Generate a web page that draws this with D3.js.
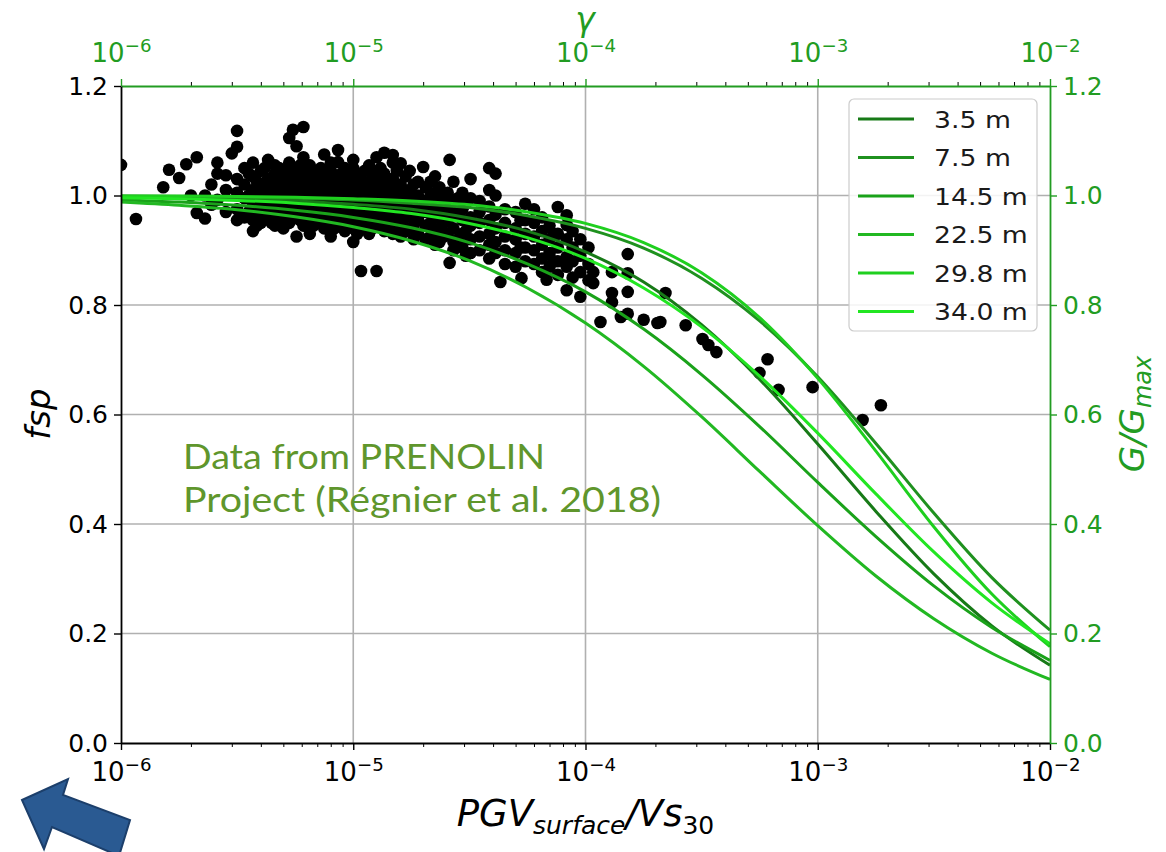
<!DOCTYPE html>
<html><head><meta charset="utf-8">
<script src="https://cdn.jsdelivr.net/npm/d3@7/dist/d3.min.js"></script>
<style>html,body{margin:0;padding:0;background:#fff} svg{display:block}</style>
</head><body>
<svg id="c" width="1166" height="852"></svg>
<script>
// ---------- data ----------
const depthLabels = ["3.5 m","7.5 m","14.5 m","22.5 m","29.8 m","34.0 m"];
const depthColors = ["#177a17","#1f911f","#1aa21a","#22b822","#1fcf1f","#22e622"];
// shear strain grid (top axis, gamma)
const strainGrid = [1e-6,1.78e-6,3.16e-6,5.62e-6,1e-5,1.78e-5,3.16e-5,5.62e-5,1e-4,1.78e-4,3.16e-4,5.62e-4,1e-3,1.78e-3,3.16e-3,5.62e-3,1e-2];
// G/Gmax at the strainGrid points
const gg_3_5  = [0.998,0.996,0.994,0.990,0.984,0.975,0.959,0.935,0.897,0.842,0.764,0.664,0.546,0.423,0.309,0.214,0.142];
const gg_7_5  = [0.999,0.998,0.997,0.995,0.992,0.986,0.978,0.963,0.940,0.904,0.849,0.771,0.669,0.547,0.420,0.302,0.206];
const gg_14_5 = [0.992,0.988,0.982,0.973,0.960,0.941,0.914,0.875,0.824,0.756,0.673,0.578,0.476,0.377,0.287,0.211,0.151];
const gg_22_5 = [0.988,0.982,0.974,0.961,0.943,0.917,0.881,0.831,0.767,0.688,0.596,0.496,0.397,0.305,0.227,0.164,0.116];
const gg_29_8 = [0.999,0.999,0.998,0.997,0.994,0.990,0.983,0.970,0.949,0.914,0.859,0.777,0.666,0.533,0.395,0.272,0.176];
const gg_34_0 = [0.996,0.994,0.991,0.986,0.978,0.967,0.949,0.923,0.885,0.831,0.760,0.670,0.566,0.455,0.349,0.256,0.181];
const curveSeries = [gg_3_5, gg_7_5, gg_14_5, gg_22_5, gg_29_8, gg_34_0];

// PRENOLIN observations: PGV_surface/Vs30 and the fsp values observed at it
const obsPGV = [1.0e-6,1.16e-6,1.52e-6,1.61e-6,1.78e-6,1.91e-6,2.0e-6,2.12e-6,2.3e-6,2.45e-6,2.6e-6,2.83e-6,3.0e-6,3.16e-6,3.4e-6,3.7e-6,4.0e-6,4.3e-6,4.6e-6,5.0e-6,5.3e-6,5.5e-6,5.7e-6,6.1e-6,6.5e-6,7.0e-6,7.5e-6,8.0e-6,8.6e-6,9.2e-6,1.0e-5,1.08e-5,1.17e-5,1.26e-5,1.36e-5,1.48e-5,1.6e-5,1.75e-5,1.9e-5,2.0e-5,2.05e-5,2.25e-5,2.45e-5,2.6e-5,2.7e-5,2.95e-5,3.2e-5,3.5e-5,3.85e-5,4.1e-5,4.3e-5,4.5e-5,5.0e-5,5.3e-5,5.5e-5,6.0e-5,6.5e-5,6.8e-5,7.0e-5,7.6e-5,8.3e-5,8.8e-5,9.5e-5,1.03e-4,1.08e-4,1.16e-4,1.3e-4,1.42e-4,1.52e-4,1.78e-4,2.04e-4,2.1e-4,2.21e-4,2.7e-4,3.19e-4,3.38e-4,3.66e-4,5.61e-4,6.08e-4,6.78e-4,9.5e-4,1.56e-3,1.87e-3,
 3.55e-6,3.85e-6,4.15e-6,4.45e-6,4.8e-6,5.15e-6,5.9e-6,6.3e-6,6.75e-6,7.25e-6,7.75e-6,8.3e-6,8.9e-6,9.6e-6,1.04e-5,1.12e-5,1.21e-5,1.31e-5,1.42e-5,1.54e-5,1.68e-5,1.82e-5,2.15e-5,2.35e-5,2.55e-5,2.82e-5,3.05e-5,5.25e-5,7.3e-5];
const obsFsp = [
 [1.056],[0.957],[1.015],[1.047],[1.032],[1.057],[1.0],[1.07,0.968],[1.0,0.958],[1.02,0.983],[1.06,0.992,1.04],[1.037,0.97,1.01],[1.077],
 [1.118,1.089,1.03,1.005,0.975,0.955],[1.05,1.02,0.995,0.96],[1.06,1.035,1.01,0.985,0.955,0.935],[1.045,1.02,1.0,0.975,0.95],
 [1.065,1.03,1.005,0.985,0.96],[1.055,1.04,1.015,0.995,0.97,0.945],[1.03,1.01,0.99,0.965,0.94],[1.105,1.06,1.035,1.015,0.995,0.975,0.95],[1.12],
 [1.09,1.045,1.02,1.0,0.98,0.96,0.925],[1.125,1.07,1.04,1.01,0.99,0.97,0.945],[1.055,1.025,1.005,0.985,0.96,0.93],[1.04,1.02,0.995,0.975,0.95],
 [1.075,1.03,1.01,0.985,0.965,0.94],[1.06,1.045,1.015,0.99,0.97,0.955,0.925],[1.083,1.061,1.035,1.02,1.0,0.975,0.95],[1.05,1.025,1.005,0.98,0.96,0.935],
 [1.065,1.05,1.03,1.005,0.985,0.96,0.94,0.915],[1.04,1.01,0.99,0.97,0.945,0.862],[1.055,1.025,1.0,0.975,0.955,0.93],[1.07,1.035,1.015,0.99,0.965,0.945,0.862],
 [1.078,1.04,1.005,0.98,0.96,0.935],[1.074,1.06,1.03,1.0,0.98,0.955,0.93],[1.059,1.02,0.995,0.975,0.95,0.925],[1.045,1.01,0.985,0.965,0.94],
 [1.025,1.0,0.975,0.955,0.93],[1.052],[1.015,0.99,0.97,0.945,0.92],[1.035,1.005,0.98,0.96,0.935,0.91],[0.995,0.97,0.95,0.925],[1.065,0.877],
 [1.025,0.99,0.965,0.94,0.915,0.90],[1.005,0.975,0.955,0.93,0.905],[1.03,0.995,0.96,0.945,0.92,0.895],[0.99,0.97,0.95,0.925,0.9],
 [1.05,1.01,0.98,0.955,0.93,0.91,0.885],[1.04,1.0,0.965,0.94,0.915,0.895],[0.842],[0.975,0.95,0.925,0.9,0.875],[0.97,0.94,0.92,0.895,0.87],[0.849],
 [0.985,0.955,0.93,0.905,0.88],[0.975,0.95,0.925,0.9,0.875],[0.96,0.935,0.91,0.885,0.86],[0.846],[0.945,0.92,0.895,0.87],[0.979,0.93,0.905,0.88,0.855],
 [0.964,0.946,0.92,0.888,0.87,0.827],[0.935,0.905,0.88,0.85],[0.92,0.89,0.86,0.815],[0.905,0.875,0.845],[0.86,0.84],[0.769],[0.86,0.822,0.805],[0.778],
 [0.893,0.858,0.824,0.784],[0.773],[0.767],[0.769],[0.822],[0.763],[0.738],[0.727],[0.714],[0.676],[0.701],[0.645],[0.65],[0.59],[0.617],
 [1.04,1.0,0.97],[1.025,0.995,0.965,0.945],[1.05,1.01,0.99,0.965],[1.02,0.975,0.95],[1.05,1.025,1.0,0.98,0.955],[1.045,1.02,0.985,0.96],
 [1.055,1.03,1.005,0.985,0.955],[1.045,1.02,0.995,0.975,0.955],[1.035,1.01,0.99,0.965,0.945],[1.05,1.025,1.0,0.98,0.96],[1.04,1.02,0.995,0.975,0.95],
 [1.03,1.005,0.985,0.96,0.94],[1.04,1.015,0.99,0.97,0.945],[1.035,1.015,0.995,0.97,0.95],[1.025,1.0,0.975,0.95,0.93],[1.045,1.02,0.995,0.965,0.94],
 [1.04,1.01,0.985,0.965,0.94],[1.05,1.025,1.0,0.97,0.95],[1.03,1.015,0.99,0.97,0.945],[1.045,1.015,0.99,0.965,0.94],[1.035,1.005,0.98,0.96,0.935],
 [1.02,0.995,0.97,0.945,0.92],[1.025,1.0,0.975,0.95,0.925],[1.015,0.99,0.965,0.94,0.915],[1.005,0.98,0.955,0.93],[0.995,0.97,0.92],
 [0.985,0.935,0.89],[0.955,0.905],[0.93,0.88]
];
// axis ticks
const decadeTicks = [1e-6,1e-5,1e-4,1e-3,1e-2];
const yTicks = [0,0.2,0.4,0.6,0.8,1.0,1.2];

// ---------- drawing ----------
const svg = d3.select("#c");
const X0=121, X1=1050, Y0=86, Y1=743;
const GREEN = "#229c22";
const FONT = "'DejaVu Sans', sans-serif";
const x = d3.scaleLog().domain([1e-6,1e-2]).range([X0,X1]);
const y = d3.scaleLinear().domain([0,1.2]).range([Y1,Y0]);
const minorTicks = [];
decadeTicks.slice(0,-1).forEach(d=>{for(let k=2;k<=9;k++) minorTicks.push(d*k);});

svg.append("defs").append("clipPath").attr("id","plotclip")
  .append("rect").attr("x",X0).attr("y",Y0).attr("width",X1-X0).attr("height",Y1-Y0);

// grid
const grid = svg.append("g");
grid.selectAll("line.vx").data(decadeTicks.slice(1,-1)).join("line")
  .attr("x1",d=>x(d)).attr("x2",d=>x(d)).attr("y1",Y0).attr("y2",Y1)
  .attr("stroke","#b0b0b0").attr("stroke-width",1.6);
grid.selectAll("line.hy").data(yTicks.slice(1,-1)).join("line")
  .attr("x1",X0).attr("x2",X1).attr("y1",d=>y(d)).attr("y2",d=>y(d))
  .attr("stroke","#b0b0b0").attr("stroke-width",1.6);

// scatter
const obs = [];
obsPGV.forEach((xv,i)=>obsFsp[i].forEach(f=>obs.push([xv,f])));
svg.append("g").attr("clip-path","url(#plotclip)")
  .selectAll("circle").data(obs).join("circle")
  .attr("cx",d=>x(d[0])).attr("cy",d=>y(d[1])).attr("r",6.3).attr("fill","#000");

// curves
const line = d3.line().x(d=>x(d[0])).y(d=>y(d[1])).curve(d3.curveMonotoneX);
const cg = svg.append("g").attr("clip-path","url(#plotclip)");
curveSeries.forEach((s,i)=>{
  cg.append("path").datum(strainGrid.map((g,j)=>[g,s[j]]))
    .attr("d",line).attr("fill","none").attr("stroke",depthColors[i]).attr("stroke-width",3);
});

// annotation
const ann = svg.append("g").attr("fill","#5f962c").attr("font-family","Lato, 'DejaVu Sans', sans-serif").attr("font-size",34);
ann.append("text").attr("x",183).attr("y",469).attr("textLength",362).attr("lengthAdjust","spacingAndGlyphs").text("Data from PRENOLIN");
ann.append("text").attr("x",183).attr("y",512).attr("textLength",478).attr("lengthAdjust","spacingAndGlyphs").text("Project (Régnier et al. 2018)");

// legend
const lg = svg.append("g");
lg.append("rect").attr("x",849).attr("y",99).attr("width",188).attr("height",232).attr("rx",5)
  .attr("fill","#fff").attr("fill-opacity",0.85).attr("stroke","#cccccc").attr("stroke-width",1.2);
depthLabels.forEach((lab,i)=>{
  const yy = 119 + i*38.5;
  lg.append("line").attr("x1",858).attr("x2",914).attr("y1",yy).attr("y2",yy)
    .attr("stroke",depthColors[i]).attr("stroke-width",3);
  lg.append("text").attr("transform",`translate(934,${yy+8.5}) scale(1.16,1)`).attr("font-family",FONT).attr("font-size",23)
    .attr("fill","#1a1a1a").text(lab);
});

// axes helpers
function powLabels(sel){
  sel.selectAll(".tick text").each(function(d){
    const e = Math.round(Math.log10(d));
    const t = d3.select(this); t.text(null);
    t.append("tspan").text("10");
    t.append("tspan").attr("dy","-0.55em").attr("font-size","0.7em").text("\u2212"+(-e));
  });
}
function styleAxis(g,color,fs){
  g.attr("font-family",FONT).attr("font-size",fs);
  g.selectAll("path.domain").attr("stroke",color).attr("stroke-width",1.8);
  g.selectAll(".tick line").attr("stroke",color).attr("stroke-width",1.4);
  g.selectAll(".tick text").attr("fill",color);
}
// bottom
const gbm = svg.append("g").attr("transform",`translate(0,${Y1})`)
  .call(d3.axisBottom(x).tickValues(minorTicks).tickSize(4).tickFormat(""));
gbm.select(".domain").remove(); gbm.selectAll(".tick line").attr("stroke","#000").attr("stroke-width",1);
const gb = svg.append("g").attr("transform",`translate(0,${Y1})`)
  .call(d3.axisBottom(x).tickValues(decadeTicks).tickSize(7).tickSizeOuter(0).tickPadding(13));
powLabels(gb); styleAxis(gb,"#000",26);
// top
const gtm = svg.append("g").attr("transform",`translate(0,${Y0})`)
  .call(d3.axisTop(x).tickValues(minorTicks).tickSize(4).tickFormat(""));
gtm.select(".domain").remove(); gtm.selectAll(".tick line").attr("stroke","#000").attr("stroke-width",1);
const gt = svg.append("g").attr("transform",`translate(0,${Y0})`)
  .call(d3.axisTop(x).tickValues(decadeTicks).tickSize(7).tickSizeOuter(0).tickPadding(17));
powLabels(gt); styleAxis(gt,GREEN,26);
// left
const gl = svg.append("g").attr("transform",`translate(${X0},0)`)
  .call(d3.axisLeft(y).tickValues(yTicks).tickFormat(d3.format(".1f")).tickSize(7).tickSizeOuter(0).tickPadding(6));
styleAxis(gl,"#000",25);
// right
const gr = svg.append("g").attr("transform",`translate(${X1},0)`)
  .call(d3.axisRight(y).tickValues(yTicks).tickFormat(d3.format(".1f")).tickSize(7).tickSizeOuter(0).tickPadding(6));
styleAxis(gr,GREEN,25);

// axis titles
const xl = svg.append("text").attr("x",(X0+X1)/2).attr("y",826).attr("text-anchor","middle")
  .attr("font-family",FONT).attr("fill","#000");
xl.append("tspan").attr("font-style","italic").attr("font-size",37).text("PGV");
xl.append("tspan").attr("font-style","italic").attr("font-size",25).attr("dy",8).text("surface");
xl.append("tspan").attr("font-style","italic").attr("font-size",37).attr("dy",-8).text("/Vs");
xl.append("tspan").attr("font-size",25).attr("dy",8).text("30");

svg.append("text").attr("transform","translate(50,414) rotate(-90)").attr("text-anchor","middle")
  .attr("font-family",FONT).attr("font-style","italic").attr("font-size",34).text("fsp");

const rl = svg.append("text").attr("transform","translate(1144,414) rotate(-90)").attr("text-anchor","middle")
  .attr("font-family",FONT).attr("fill",GREEN);
rl.append("tspan").attr("font-style","italic").attr("font-size",34).text("G/G");
rl.append("tspan").attr("font-style","italic").attr("font-size",24).attr("dy",7).text("max");

svg.append("text").attr("x",585).attr("y",31).attr("text-anchor","middle")
  .attr("font-family",FONT).attr("font-style","italic").attr("font-size",33).attr("fill",GREEN).text("\u03b3");

// blue arrow
svg.append("polygon")
  .attr("points","22,800 68,779 63,795 130,820 119,856 52,827 44,849")
  .attr("fill","#2a5a92").attr("stroke","#1c3f6b").attr("stroke-width",2).attr("stroke-linejoin","miter");
</script>
</body></html>
